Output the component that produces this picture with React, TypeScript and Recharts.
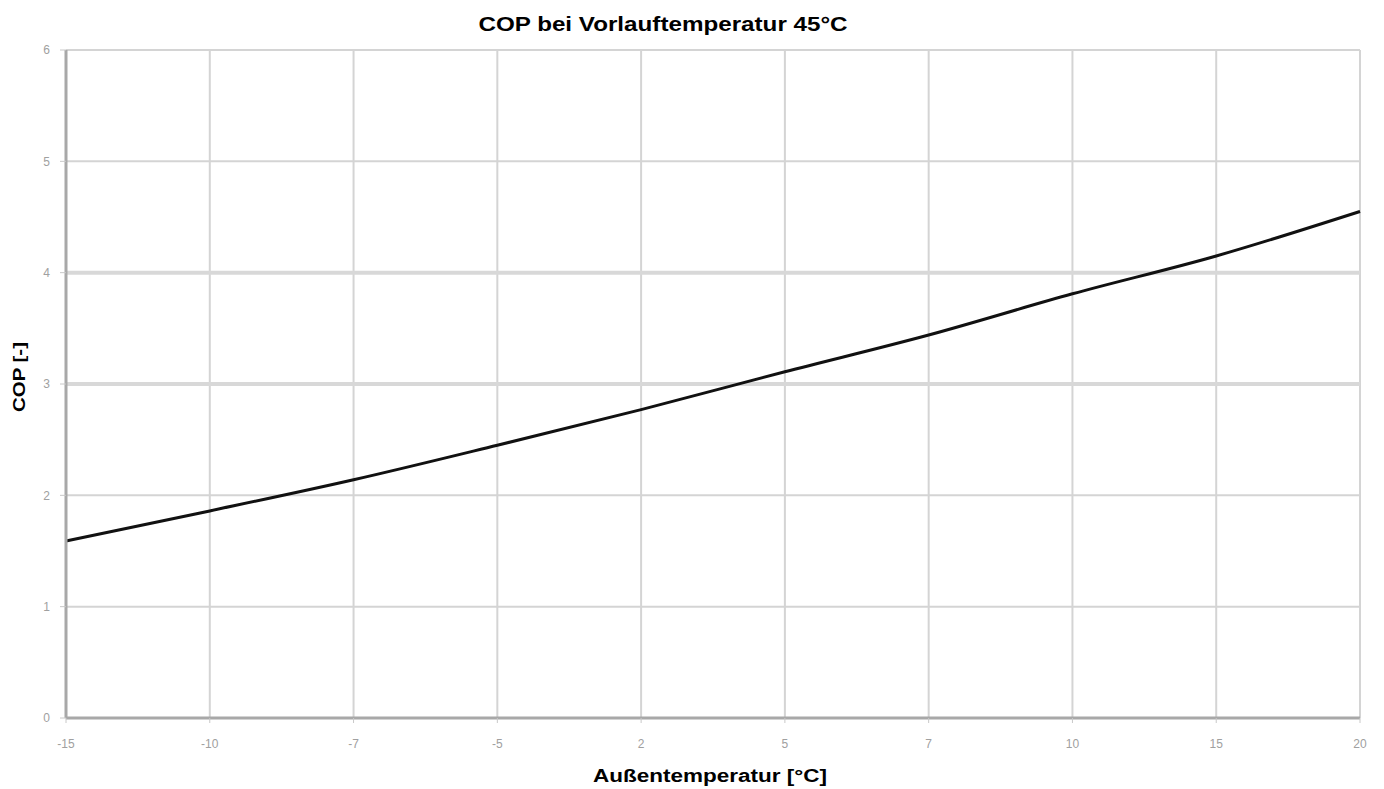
import { LineChart, Line, XAxis, YAxis, CartesianGrid, ReferenceLine } from "recharts";

const temps = ["-15", "-10", "-7", "-5", "2", "5", "7", "10", "15", "20"];
const cop = [1.59, 1.86, 2.14, 2.45, 2.77, 3.11, 3.44, 3.81, 4.15, 4.55];
const yTicks = [0, 1, 2, 3, 4, 5, 6];
const heavyGrid = [3, 4];

const data = temps.map((t, i) => ({ temp: t, cop: cop[i] }));

const font = "'Liberation Sans', Arial, sans-serif";

// reference image is stretched sideways, so titles get a small horizontal scale
const XTitle = ({ viewBox }: any) => {
  const cx = viewBox.x + viewBox.width / 2 - 3;
  const y = viewBox.y + 64;
  return (
    <text transform={`translate(${cx},${y}) scale(1.25,1)`} textAnchor="middle" fontSize={18} fontWeight="bold" fontFamily={font} fill="#000">
      Außentemperatur [°C]
    </text>
  );
};

const YTitle = () => (
  <text transform="translate(25,377) rotate(-90) scale(1.2,1)" textAnchor="middle" fontSize={17} fontWeight="bold" fontFamily={font} fill="#000">
    COP [-]
  </text>
);

const App = () => {
  return (
    <div style={{ position: "absolute", left: 0, top: 0, width: 1384, height: 789, background: "#fff", fontFamily: font }}>
      <div
        style={{
          position: "absolute",
          left: 0,
          width: 1326,
          top: 13,
          textAlign: "center",
          fontSize: 20,
          fontWeight: "bold",
          color: "#000",
          transform: "scaleX(1.21)",
          transformOrigin: "663px 0",
        }}
      >
        COP bei Vorlauftemperatur 45°C
      </div>
      <LineChart width={1384} height={789} data={data} margin={{ top: 50, right: 24, bottom: 5, left: 26 }}>
        <CartesianGrid stroke="#d4d4d4" strokeWidth={2} />
        {heavyGrid.map((v) => (
          <ReferenceLine key={v} y={v} stroke="#d8d8d8" strokeWidth={4} />
        ))}
        <XAxis
          dataKey="temp"
          tick={{ fill: "#a0a0a0", fontSize: 12, fontFamily: font }}
          tickLine={{ stroke: "#c8c8c8" }}
          tickSize={5}
          tickMargin={16}
          axisLine={{ stroke: "#a8a8a8", strokeWidth: 3 }}
          height={66}
          label={<XTitle />}
        />
        <YAxis
          domain={[0, 6]}
          ticks={yTicks}
          interval={0}
          tick={{ fill: "#a0a0a0", fontSize: 12, fontFamily: font }}
          tickLine={{ stroke: "#c8c8c8" }}
          tickSize={6}
          tickMargin={10}
          axisLine={{ stroke: "#a8a8a8", strokeWidth: 3 }}
          width={40}
          label={<YTitle />}
        />
        <Line type="monotone" dataKey="cop" stroke="#111" strokeWidth={3} dot={false} isAnimationActive={false} />
      </LineChart>
    </div>
  );
};

export default App;
